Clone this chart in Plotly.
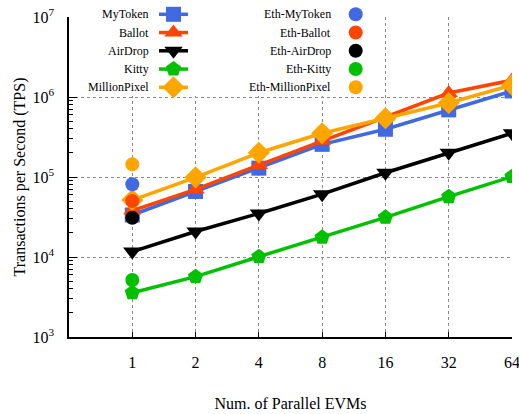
import plotly.graph_objects as go

# ---- data ----
evms = [1, 2, 4, 8, 16, 32, 64]
tick_labels = ["1", "2", "4", "8", "16", "32", "64"]

y_tickvals = [1e3, 1e4, 1e5, 1e6, 1e7]
y_ticktext = ["10<sup>3</sup>", "10<sup>4</sup>", "10<sup>5</sup>", "10<sup>6</sup>", "10<sup>7</sup>"]

mytoken = [33500, 66000, 129000, 256000, 395000, 690000, 1190000]
ballot = [38000, 70000, 141000, 283000, 568000, 1120000, 1620000]
airdrop = [11700, 20800, 35000, 61000, 113000, 201000, 352000]
kitty = [3580, 5680, 10100, 17600, 31300, 56700, 101000]
millionpixel = [51500, 99000, 201000, 352000, 542000, 841000, 1410000]

eth_x = [1]
eth_mytoken = [81000]
eth_ballot = [50000]
eth_airdrop = [31000]
eth_kitty = [5160]
eth_millionpixel = [144000]

names = ["MyToken", "Ballot", "AirDrop", "Kitty", "MillionPixel"]
eth_names = ["Eth-MyToken", "Eth-Ballot", "Eth-AirDrop", "Eth-Kitty", "Eth-MillionPixel"]
series = [mytoken, ballot, airdrop, kitty, millionpixel]
eth_series = [eth_mytoken, eth_ballot, eth_airdrop, eth_kitty, eth_millionpixel]
colors = ["#4169E1", "#FF4500", "#000000", "#00C000", "#FFA500"]
symbols = ["square", "triangle-up", "triangle-down", "pentagon", "diamond"]
marker_sizes = [15, 16, 16, 16, 17]

FONT = "'Liberation Serif', 'DejaVu Serif', serif"

# layout in pixels
W, H = 519, 414
L, R, B = 69, 7, 77
PLOT_TOP = 17
AW, AH = W - L - R, H - B          # area below t=0 margin
main_domain_top = (AH - PLOT_TOP) / AH

minor_vals = [m * 10 ** e for e in range(3, 7) for m in range(2, 10)]

fig = go.Figure()

for name, ys, c, s, ms in zip(names, series, colors, symbols, marker_sizes):
    fig.add_trace(go.Scatter(
        x=evms, y=ys, name=name, mode="lines+markers",
        line=dict(color=c, width=3.5),
        marker=dict(symbol=s, size=ms, color=c),
        showlegend=False,
    ))

for name, ys, c in zip(eth_names, eth_series, colors):
    fig.add_trace(go.Scatter(
        x=eth_x, y=ys, name=name, mode="markers",
        marker=dict(symbol="circle", size=14, color=c),
        showlegend=False,
    ))

# placeholder trace so the minor-tick overlay axis is drawn
fig.add_trace(go.Scatter(x=[None], y=[None], yaxis="y3", showlegend=False, hoverinfo="skip"))

# ---- custom gnuplot-style legend (pixel coordinate subplot) ----
shapes = [dict(type="rect", xref="x2", yref="y2",
               x0=L, x1=378, y0=PLOT_TOP, y1=96,
               fillcolor="white", line=dict(width=0), layer="below")]
annotations = []
row_y0, row_dy = 14.3, 18.25
for i, (name, ename, c, s, ms) in enumerate(zip(names, eth_names, colors, symbols, marker_sizes)):
    yy = row_y0 + i * row_dy
    annotations.append(dict(x=151, y=yy, xref="x2", yref="y2",
                            text=name, showarrow=False, xanchor="right", yanchor="middle",
                            font=dict(family=FONT, size=12, color="black")))
    annotations.append(dict(x=333, y=yy, xref="x2", yref="y2",
                            text=ename, showarrow=False, xanchor="right", yanchor="middle",
                            font=dict(family=FONT, size=12, color="black")))
    fig.add_trace(go.Scatter(
        x=[159, 188], y=[yy, yy], xaxis="x2", yaxis="y2", mode="lines",
        line=dict(color=c, width=3.5), showlegend=False, hoverinfo="skip"))
    fig.add_trace(go.Scatter(
        x=[173.5], y=[yy], xaxis="x2", yaxis="y2", mode="markers",
        marker=dict(symbol=s, size=ms, color=c), cliponaxis=False,
        showlegend=False, hoverinfo="skip"))
    fig.add_trace(go.Scatter(
        x=[355.7], y=[yy], xaxis="x2", yaxis="y2", mode="markers",
        marker=dict(symbol="circle", size=14, color=c), cliponaxis=False,
        showlegend=False, hoverinfo="skip"))

fig.update_layout(
    width=W, height=H,
    margin=dict(l=L, r=R, t=0, b=B, pad=0),
    paper_bgcolor="white", plot_bgcolor="rgba(0,0,0,0)",
    font=dict(family=FONT, size=16, color="black"),
    shapes=shapes, annotations=annotations,
    xaxis=dict(
        type="log", range=[-0.30103, 1.80618], domain=[0, 1], anchor="y",
        tickmode="array", tickvals=evms, ticktext=tick_labels,
        ticks="inside", ticklen=5, tickcolor="black",
        ticklabelstandoff=10, ticklabeloverflow="allow",
        showline=True, linecolor="black", linewidth=1.5,
        showgrid=True, gridcolor="#888", griddash="dot", gridwidth=1,
        zeroline=False, automargin=False,
        title=dict(text="Num. of Parallel EVMs", font=dict(family=FONT, size=16), standoff=28),
        tickfont=dict(family=FONT, size=16),
    ),
    yaxis=dict(
        type="log", range=[3, 7], domain=[0, main_domain_top], anchor="x",
        tickmode="array", tickvals=y_tickvals, ticktext=y_ticktext,
        ticks="inside", ticklen=8, tickcolor="black",
        ticklabelstandoff=10, ticklabeloverflow="allow",
        showline=True, linecolor="black", linewidth=1.5,
        showgrid=True, gridcolor="#888", griddash="dot", gridwidth=1,
        zeroline=False, automargin=False,
        title=dict(text="Transactions per Second (TPS)", font=dict(family=FONT, size=16), standoff=3),
        tickfont=dict(family=FONT, size=16),
    ),
    yaxis3=dict(
        type="log", range=[3, 7], overlaying="y", anchor="x", side="left",
        tickmode="array", tickvals=minor_vals,
        ticks="inside", ticklen=4, tickcolor="black",
        showticklabels=False, showgrid=False, showline=False, zeroline=False,
        automargin=False, fixedrange=True,
    ),
    xaxis2=dict(domain=[0, 1], anchor="y2", range=[L, W - R], visible=False, fixedrange=True),
    yaxis2=dict(domain=[0, 1], anchor="x2", range=[AH, 0], visible=False, fixedrange=True),
)

fig.write_html("out.html", config={"displayModeBar": False},
               post_script="document.body.style.margin='0';")
